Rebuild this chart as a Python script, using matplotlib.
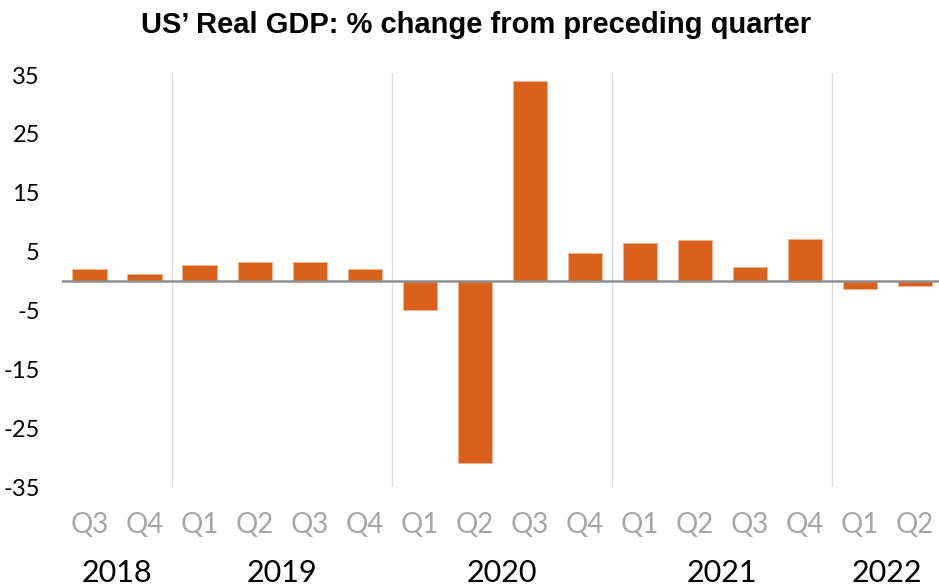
import matplotlib.pyplot as plt
from matplotlib.transforms import blended_transform_factory

# dados (% de variação trimestral, anualizada)
trimestres = ["Q3", "Q4", "Q1", "Q2", "Q3", "Q4", "Q1", "Q2",
              "Q3", "Q4", "Q1", "Q2", "Q3", "Q4", "Q1", "Q2"]
variacao = [2.1, 1.2, 2.7, 3.3, 3.2, 2.1, -5.0, -31.0,
            34.0, 4.8, 6.5, 7.0, 2.4, 7.2, -1.4, -0.8]
anos = ["2018", "2019", "2020", "2021", "2022"]
# posição central de cada ano (em índice de barra)
centro_anos = [0.5, 3.5, 7.5, 11.5, 14.5]
divisoes = [1.5, 5.5, 9.5, 13.5]
ticks_y = [35, 25, 15, 5, -5, -15, -25, -35]

plt.rcParams["font.family"] = ["Lato", "DejaVu Sans"]

W, H = 939, 588
fig = plt.figure(figsize=(W / 100, H / 100), dpi=100)
# eixo posicionado em pixels
esq, dir_, topo, base = 62, 939, 73, 487
ax = fig.add_axes([esq / W, (H - base) / H, (dir_ - esq) / W, (base - topo) / H])

x = list(range(len(variacao)))
ax.bar(x, variacao, width=0.62, color="#d9611b", edgecolor="#f3b48c",
       linewidth=0.6, zorder=3)

ax.set_xlim(-0.5, 15.44)
ax.set_ylim(-35, 35.34)

ax.axhline(0, color="#8f8f8f", lw=1.8, zorder=4)
for d in divisoes:
    ax.axvline(d, color="#dcdcdc", lw=0.9, zorder=1)

for lado in ["top", "right", "left", "bottom"]:
    ax.spines[lado].set_visible(False)

ax.set_yticks(ticks_y)
ax.set_yticklabels([str(t) for t in ticks_y], fontsize=17, color="black")
ax.set_xticks(x)
ax.set_xticklabels(trimestres, fontsize=20, color="#a6a6a6")
ax.tick_params(axis="y", length=0, pad=16)
ax.tick_params(axis="x", length=0, pad=18)

trans = blended_transform_factory(ax.transData, ax.transAxes)
for ano, c in zip(anos, centro_anos):
    ax.text(c, -0.208, ano, transform=trans, ha="center", va="center",
            fontsize=22, color="black")

fig.text(476 / W, 1 - 25 / H, "US’ Real GDP: % change from preceding quarter",
         ha="center", va="center", fontsize=21, fontweight="bold",
         family=["Liberation Sans", "DejaVu Sans"])

fig.savefig("out.png", dpi=100)
